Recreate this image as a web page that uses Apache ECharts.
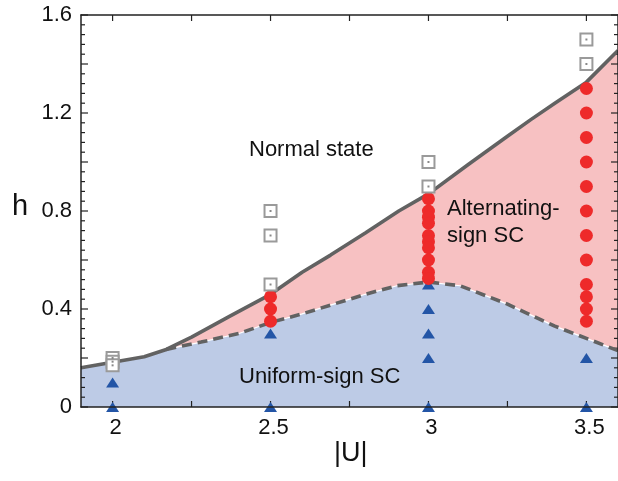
<!DOCTYPE html>
<html>
<head>
<meta charset="utf-8">
<script src="https://cdn.jsdelivr.net/npm/echarts@6/dist/echarts.min.js"></script>
<style>html,body{margin:0;padding:0;background:#fff}#c{width:618px;height:481px}</style>
</head>
<body>
<div id="c"></div>
<script>
// ---- data ----
const xTickValues = [2, 2.25, 2.5, 2.75, 3, 3.25, 3.5];
const xLabelValues = [2, 2.5, 3, 3.5];
const yLabelValues = [0, 0.4, 0.8, 1.2, 1.6];
const yMajorStep = 0.2;
const yMinorStep = 0.04;

// upper (normal / SC) boundary, solid
const upperU = [1.9, 2.0, 2.1, 2.17, 2.25, 2.37, 2.5, 2.6, 2.69, 2.8, 2.906, 3.0, 3.126, 3.25, 3.324, 3.4, 3.5, 3.6];
const upperH = [0.16, 0.183, 0.205, 0.235, 0.285, 0.37, 0.46, 0.55, 0.62, 0.71, 0.80, 0.87, 0.99, 1.105, 1.173, 1.24, 1.326, 1.455];

// uniform / alternating boundary, dashed
const dashU = [2.17, 2.28, 2.4, 2.5, 2.6, 2.7, 2.8, 2.9, 3.0, 3.1, 3.25, 3.4, 3.5, 3.6];
const dashH = [0.235, 0.265, 0.30, 0.345, 0.38, 0.42, 0.46, 0.495, 0.51, 0.495, 0.42, 0.33, 0.28, 0.23];

// normal state points (grey squares)
const normalU = [2, 2, 2, 2.5, 2.5, 2.5, 3, 3, 3.5, 3.5];
const normalH = [0.2, 0.185, 0.17, 0.8, 0.7, 0.5, 1.0, 0.9, 1.5, 1.4];

// alternating-sign SC points (red circles)
const altU = [2.5, 2.5, 2.5,
  3, 3, 3, 3, 3, 3, 3, 3, 3, 3,
  3.5, 3.5, 3.5, 3.5, 3.5, 3.5, 3.5, 3.5, 3.5, 3.5, 3.5, 3.5];
const altH = [0.45, 0.4, 0.35,
  0.85, 0.8, 0.775, 0.75, 0.7, 0.675, 0.65, 0.6, 0.55, 0.525,
  1.3, 1.2, 1.1, 1.0, 0.9, 0.8, 0.7, 0.6, 0.5, 0.45, 0.4, 0.35];

// uniform-sign SC points (blue triangles)
const uniU = [2, 2, 2, 2.5, 2.5, 3, 3, 3, 3, 3, 3.5, 3.5];
const uniH = [0.17, 0.1, 0, 0.3, 0, 0.5, 0.4, 0.3, 0.2, 0, 0.2, 0];

// ---- build ----
const X_MIN = 1.9, X_MAX = 3.6, Y_MIN = 0, Y_MAX = 1.6;
const zip = (a, b) => a.map((v, i) => [v, b[i]]);
const upperPts = zip(upperU, upperH);
const dashPts = zip(dashU, dashH);
const lowerPts = upperPts.filter(p => p[0] < dashU[0]).concat(dashPts);

// tick descriptors: [value, kind]  kind 0 = x tick, 1 = y major, 2 = y minor
const tickData = xTickValues.map(v => [v, 0]);
for (let i = 0; i <= Math.round((Y_MAX - Y_MIN) / yMinorStep); i++) {
  const v = Math.round((Y_MIN + i * yMinorStep) * 1000) / 1000;
  const isMajor = Math.abs(v / yMajorStep - Math.round(v / yMajorStep)) < 1e-6;
  tickData.push([v, isMajor ? 1 : 2]);
}

const FONT = "'Liberation Sans', Arial, Helvetica, sans-serif";
const AXC = '#222';

function xAx(pos, show) {
  return {
    type: 'value', position: pos, min: X_MIN, max: X_MAX, z: 20,
    axisLine: { show: true, onZero: false, lineStyle: { color: AXC, width: 1.5 } },
    axisTick: { show: false },
    axisLabel: show ? { show: true, customValues: xLabelValues, margin: 10, fontSize: 22, color: '#111', fontFamily: FONT,
      padding: [0, 0, 0, 6], formatter: v => String(v) } : { show: false },
    splitLine: { show: false }
  };
}
function yAx(pos, show) {
  return {
    type: 'value', position: pos, min: Y_MIN, max: Y_MAX, interval: 0.2, z: 20,
    axisLine: { show: true, onZero: false, lineStyle: { color: AXC, width: 1.5 } },
    axisTick: { show: false },
    minorTick: { show: false },
    axisLabel: show ? { show: true, customValues: yLabelValues, margin: 9, fontSize: 22, color: '#111', fontFamily: FONT,
      formatter: v => String(Math.round(v * 10) / 10) } : { show: false },
    splitLine: { show: false }, minorSplitLine: { show: false }
  };
}

function renderTick(params, api) {
  const v = api.value(0), k = api.value(1);
  const st = { stroke: AXC, lineWidth: 1.2 };
  if (k === 0) {
    const b = api.coord([v, Y_MIN]), t = api.coord([v, Y_MAX]);
    return { type: 'group', children: [
      { type: 'line', shape: { x1: b[0], y1: b[1], x2: b[0], y2: b[1] - 6 }, style: st },
      { type: 'line', shape: { x1: t[0], y1: t[1], x2: t[0], y2: t[1] + 6 }, style: st }
    ] };
  }
  const L = k === 1 ? 7 : 4;
  const l = api.coord([X_MIN, v]), r = api.coord([X_MAX, v]);
  return { type: 'group', children: [
    { type: 'line', shape: { x1: l[0], y1: l[1], x2: l[0] + L, y2: l[1] }, style: st },
    { type: 'line', shape: { x1: r[0], y1: r[1], x2: r[0] - L, y2: r[1] }, style: st }
  ] };
}

const chart = echarts.init(document.getElementById('c'), null, { renderer: 'canvas' });
chart.setOption({
  animation: false,
  backgroundColor: '#fff',
  grid: { left: 81, top: 15, width: 540, height: 392 },
  xAxis: [xAx('bottom', true), xAx('top', false)],
  yAxis: [yAx('left', true), yAx('right', false)],
  series: [
    { type: 'line', data: upperPts, showSymbol: false, z: 1, lineStyle: { width: 0 },
      areaStyle: { color: '#f7c1c2', opacity: 1, origin: 'start' } },
    { type: 'line', data: lowerPts, showSymbol: false, z: 2, lineStyle: { width: 1.2, color: '#ffffff' },
      areaStyle: { color: '#bdcbe6', opacity: 1, origin: 'start' } },
    { type: 'line', data: dashPts, showSymbol: false, z: 3,
      lineStyle: { width: 3.6, color: '#626262', type: [10, 6] } },
    { type: 'line', data: upperPts, showSymbol: false, z: 3,
      lineStyle: { width: 3.6, color: '#626262' } },
    { type: 'custom', data: tickData, renderItem: renderTick, z: 3, silent: true,
      encode: { x: 0 } },
    { type: 'scatter', data: zip(uniU, uniH), symbol: 'triangle', symbolSize: [13, 10], z: 4,
      itemStyle: { color: '#2355a6', opacity: 1 } },
    { type: 'scatter', data: zip(altU, altH), symbol: 'circle', symbolSize: 13, z: 5,
      itemStyle: { color: '#ee2a2a', opacity: 1 } },
    { type: 'scatter', data: zip(normalU, normalH), symbol: 'rect', symbolSize: 12, z: 6,
      itemStyle: { color: '#ffffff', borderColor: '#9a9a9a', borderWidth: 2, opacity: 1 } },
    { type: 'scatter', data: zip(normalU, normalH), symbol: 'rect', symbolSize: 2, z: 7,
      itemStyle: { color: '#888', opacity: 1 } }
  ],
  graphic: [
    { type: 'text', z: 100, left: 249, top: 139, style: { text: 'Normal state', fontSize: 22, fontFamily: FONT, fill: '#111' } },
    { type: 'text', z: 100, left: 447, top: 198, style: { text: 'Alternating-', fontSize: 22, fontFamily: FONT, fill: '#111' } },
    { type: 'text', z: 100, left: 447, top: 225, style: { text: 'sign SC', fontSize: 22, fontFamily: FONT, fill: '#111' } },
    { type: 'text', z: 100, left: 239, top: 366, style: { text: 'Uniform-sign SC', fontSize: 22, fontFamily: FONT, fill: '#111' } },
    { type: 'text', z: 100, left: 12, top: 192, style: { text: 'h', fontSize: 29, fontFamily: FONT, fill: '#111' } },
    { type: 'text', z: 100, left: 334, top: 440, style: { text: '|U|', fontSize: 27, fontFamily: FONT, fill: '#111' } }
  ]
});
</script>
</body>
</html>
